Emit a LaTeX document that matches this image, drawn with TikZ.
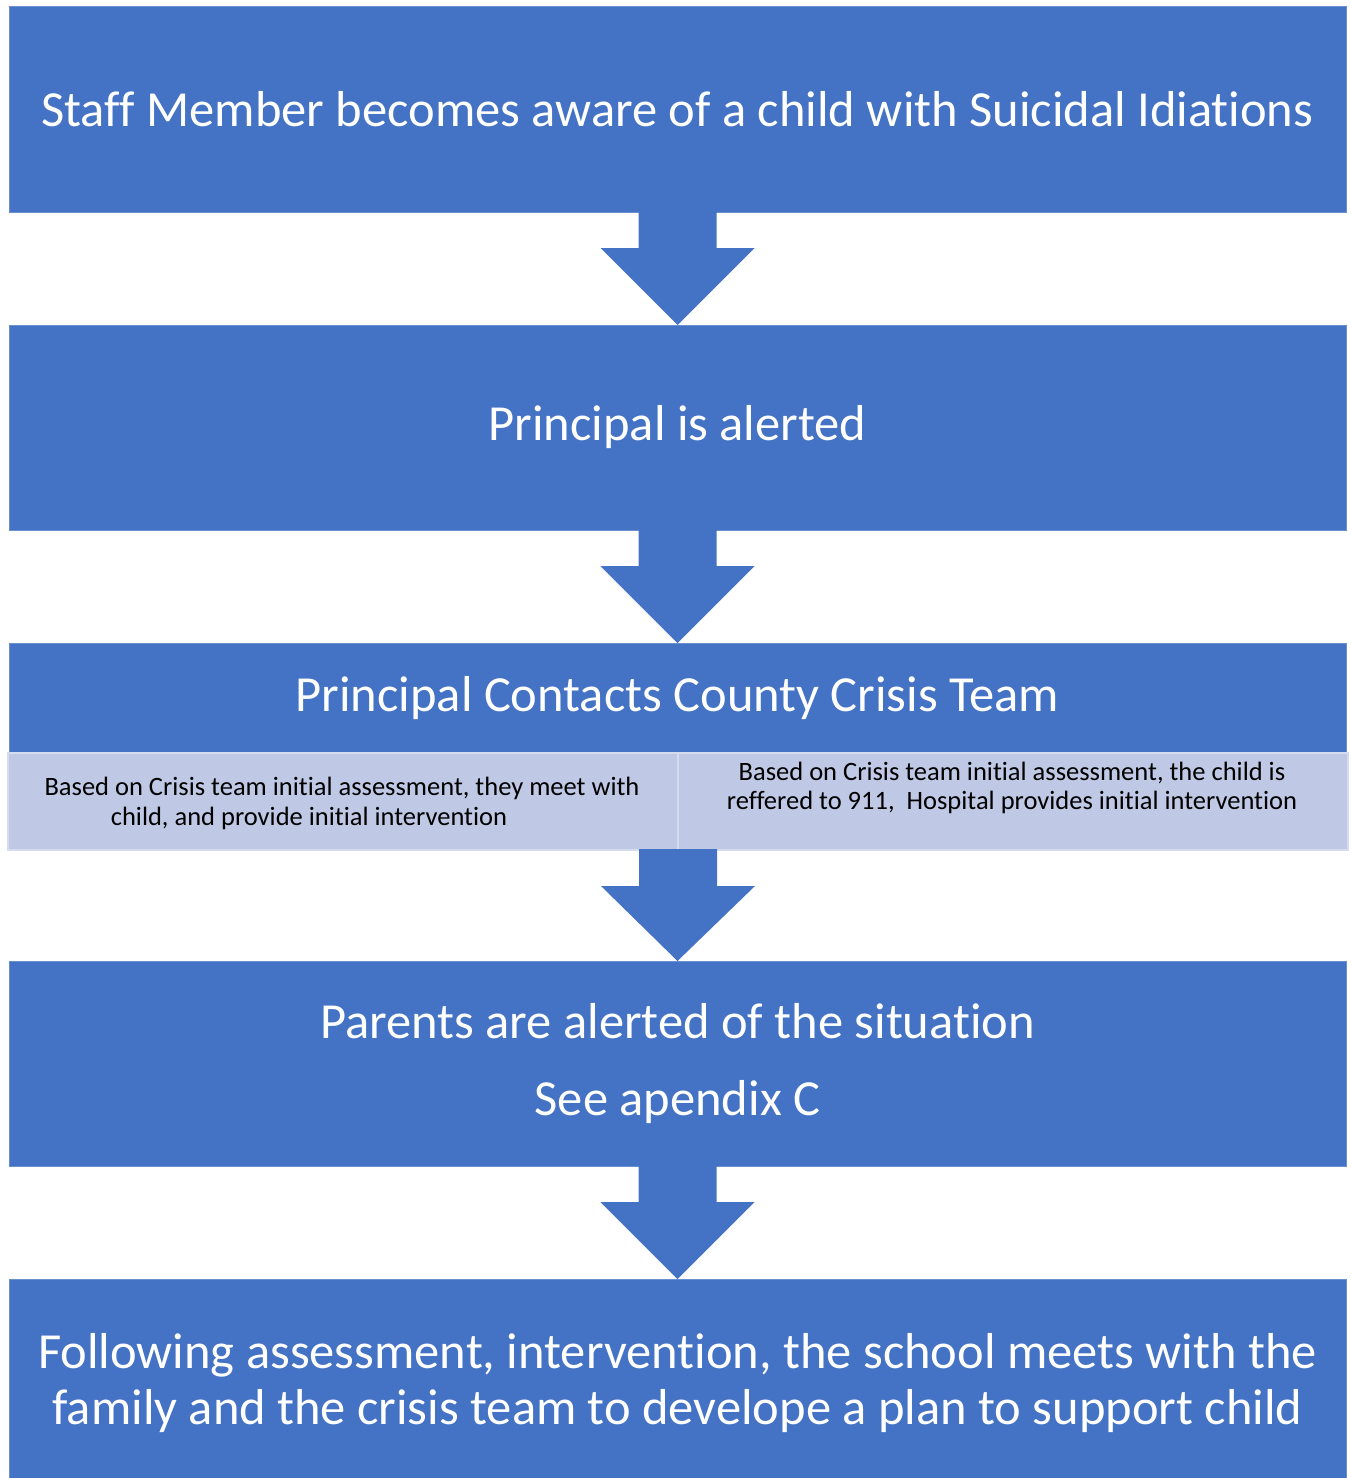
\documentclass[tikz,border=0pt]{standalone}
\usepackage{fontspec}
\setmainfont{Carlito}[Ligatures=NoCommon]
\usetikzlibrary{calc}
\definecolor{bl}{HTML}{4472C4}
\definecolor{blb}{HTML}{6A8FD0}
\definecolor{lt}{HTML}{BFC9E5}
\definecolor{ltb}{HTML}{D5DCEF}
\begin{document}
\begin{tikzpicture}[x=1pt,y=-1pt,
  box/.style={fill=bl, draw=blb, line width=0.8pt, minimum width=1337pt, inner sep=0pt, outer sep=0pt, anchor=north west, text=white, align=center, font=\fontsize{50.5}{56}\selectfont},
  subbox/.style={fill=lt, draw=ltb, line width=1.5pt, minimum width=670pt, minimum height=97pt, inner sep=0pt, outer sep=0pt, anchor=north west},
  subtext/.style={anchor=base, text=black, inner sep=0pt, font=\fontsize{26.5}{30}\selectfont},
  blockarrow/.style={fill=bl}]
\useasboundingbox (0,0) rectangle (1351,1478);
\node[box, minimum height=206pt] (b1) at (9,6) {Staff Member becomes aware of a child with Suicidal Idiations};
\node[box, minimum height=205pt] (b2) at (9,325) {Principal is alerted};
\node[box, minimum height=110pt] (b3) at (9,643) {Principal Contacts County Crisis Team};
\node[subbox] (s1) at (8,753) {};
\node[subbox] (s2) at (678,753) {};
\node[subtext] (s1a) at (342,795) {Based on Crisis team initial assessment, they meet with};
\node[subtext] (s1b) at (309,825) {child, and provide initial intervention};
\node[subtext] (s2a) at (1012,780) {Based on Crisis team initial assessment, the child is};
\node[subtext] (s2b) at (1012,809) {reffered to 911,\ \ Hospital provides initial intervention};
\node[box, minimum height=205pt] (b4) at (9,961) {Parents are alerted of the situation\\[21pt]See apendix C};
\node[box, minimum height=199pt, text depth=-12pt] (b5) at (9,1279) {Following assessment, intervention, the school meets with the\\family and the crisis team to develope a plan to support child};
% block arrows
\foreach \a/\b in {b1.south/b2.north, b2.south/b3.north, s1.south east/b4.north, b4.south/b5.north}{
  \fill[blockarrow] ($(\a)+(-39,-1)$) -- ($(\a)+(-39,36)$) -- ($(\a)+(-77,36)$) -- (\b) -- ($(\a)+(77,36)$) -- ($(\a)+(39,36)$) -- ($(\a)+(39,-1)$) -- cycle;
}
\end{tikzpicture}
\end{document}
